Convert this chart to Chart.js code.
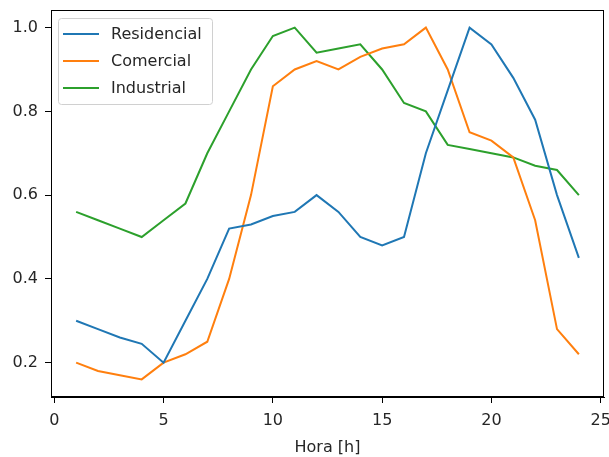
<!DOCTYPE html>
<html>
<head>
<meta charset="utf-8">
<script src="https://cdn.jsdelivr.net/npm/chart.js@4.4.1/dist/chart.umd.min.js"></script>
<style>
    body { margin: 0; background: #fff; }
    #wrap { width: 609px; height: 457px; }
</style>
</head>
<body>
<div id="wrap"><canvas id="loadChart" width="609" height="457"></canvas></div>
<script>
// curvas de carga normalizadas por hora
const hours = [1, 2, 3, 4, 5, 6, 7, 8, 9, 10, 11, 12, 13, 14, 15, 16, 17, 18, 19, 20, 21, 22, 23, 24];
const residencial = [0.30, 0.28, 0.26, 0.245, 0.20, 0.30, 0.40, 0.52, 0.53, 0.55, 0.56, 0.60, 0.56, 0.50, 0.48, 0.50, 0.70, 0.85, 1.00, 0.96, 0.88, 0.78, 0.60, 0.45];
const comercial = [0.20, 0.18, 0.17, 0.16, 0.20, 0.22, 0.25, 0.40, 0.60, 0.86, 0.90, 0.92, 0.90, 0.93, 0.95, 0.96, 1.00, 0.90, 0.75, 0.73, 0.69, 0.54, 0.28, 0.22];
const industrial = [0.56, 0.54, 0.52, 0.50, 0.54, 0.58, 0.70, 0.80, 0.90, 0.98, 1.00, 0.94, 0.95, 0.96, 0.90, 0.82, 0.80, 0.72, 0.71, 0.70, 0.69, 0.67, 0.66, 0.60];
const xTicks = [0, 5, 10, 15, 20, 25];
const yTicks = [0.2, 0.4, 0.6, 0.8, 1.0];

const FONT = "'DejaVu Sans', sans-serif";
const FONT_SIZE = 16;
const TEXT = '#262626';

const toPoints = (arr) => arr.map((v, i) => ({ x: hours[i], y: v }));

// marco completo alrededor del area de trazado (estilo matplotlib)
const frameBox = {
    id: 'frameBox',
    afterDraw(chart) {
        const { ctx, chartArea: a } = chart;
        ctx.save();
        ctx.strokeStyle = '#000';
        ctx.lineWidth = 1;
        ctx.strokeRect(a.left + 0.5, a.top + 0.5, a.right - a.left - 1, a.bottom - a.top - 1);
        ctx.restore();
    }
};

// leyenda dentro del grafico, arriba a la izquierda
const innerLegend = {
    id: 'innerLegend',
    afterDraw(chart) {
        const { ctx, chartArea: a } = chart;
        const sets = chart.data.datasets;
        const x = a.left + 7, y = a.top + 8;
        const w = 154, rowH = 27, h = 86;
        ctx.save();
        ctx.fillStyle = 'rgba(255,255,255,0.8)';
        ctx.strokeStyle = '#d0d0d0';
        ctx.lineWidth = 1;
        ctx.beginPath();
        ctx.roundRect(x + 0.5, y + 0.5, w, h, 3);
        ctx.fill();
        ctx.stroke();
        ctx.font = FONT_SIZE + 'px ' + FONT;
        ctx.textBaseline = 'middle';
        sets.forEach((ds, i) => {
            const cy = y + 16 + i * rowH;
            ctx.strokeStyle = ds.borderColor;
            ctx.lineWidth = 2;
            ctx.beginPath();
            ctx.moveTo(x + 5, cy);
            ctx.lineTo(x + 41, cy);
            ctx.stroke();
            ctx.fillStyle = TEXT;
            ctx.fillText(ds.label, x + 53, cy + 1);
        });
        ctx.restore();
    }
};

const tickStyle = { font: { family: FONT, size: FONT_SIZE }, color: TEXT };

new Chart(document.getElementById('loadChart').getContext('2d'), {
    type: 'line',
    data: {
        datasets: [
            { label: 'Residencial', data: toPoints(residencial), borderColor: '#1f77b4' },
            { label: 'Comercial', data: toPoints(comercial), borderColor: '#ff7f0e' },
            { label: 'Industrial', data: toPoints(industrial), borderColor: '#2ca02c' }
        ]
    },
    options: {
        responsive: false,
        animation: false,
        layout: { padding: { top: 10, right: 5, left: 0, bottom: 0 } },
        elements: {
            line: { borderWidth: 2, tension: 0, fill: false },
            point: { radius: 0, hoverRadius: 0 }
        },
        plugins: { legend: { display: false }, tooltip: { enabled: false } },
        scales: {
            x: {
                type: 'linear',
                min: -0.15,
                max: 25.15,
                afterBuildTicks: s => { s.ticks = xTicks.map(v => ({ value: v })); },
                afterFit: s => { s.height = 60; s.paddingLeft = 0; s.paddingRight = 0; },
                grid: { drawOnChartArea: false, drawTicks: true, tickLength: 6, tickColor: '#000' },
                border: { display: true, color: '#000' },
                ticks: { ...tickStyle, padding: 8, maxRotation: 0, callback: v => String(v) },
                title: { display: true, text: 'Hora [h]', font: { family: FONT, size: FONT_SIZE }, color: TEXT, padding: { top: 0, bottom: 0 } }
            },
            y: {
                min: 0.118,
                max: 1.042,
                afterBuildTicks: s => { s.ticks = yTicks.map(v => ({ value: v })); },
                afterFit: s => { s.width = 51; s.paddingTop = 0; s.paddingBottom = 0; },
                grid: { drawOnChartArea: false, drawTicks: true, tickLength: 6, tickColor: '#000' },
                border: { display: true, color: '#000' },
                ticks: { ...tickStyle, padding: 7, callback: v => v.toFixed(1) }
            }
        }
    },
    plugins: [frameBox, innerLegend]
});
</script>
</body>
</html>
